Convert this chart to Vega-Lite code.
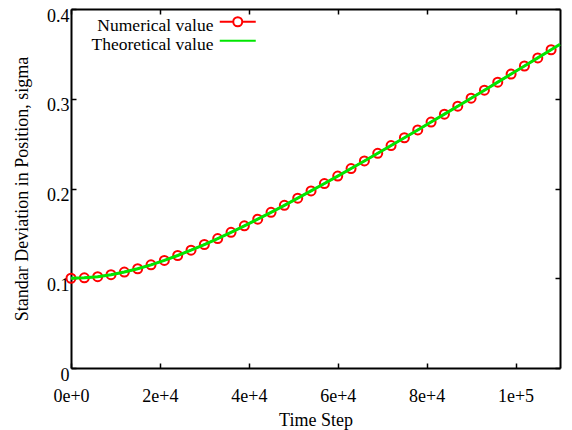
{
  "$schema": "https://vega.github.io/schema/vega-lite/v6.json",
  "width": 489,
  "height": 359,
  "autosize": {"type": "none"},
  "padding": {"left": 71, "top": 9, "right": 12, "bottom": 62},
  "background": "white",
  "config": {
    "view": {"stroke": null},
    "font": "Liberation Serif",
    "axis": {
      "labelFont": "Liberation Serif",
      "titleFont": "Liberation Serif",
      "labelFontSize": 18,
      "titleFontSize": 18,
      "titleFontWeight": "normal",
      "labelColor": "black",
      "titleColor": "black",
      "domainColor": "black",
      "domainWidth": 2,
      "tickColor": "black",
      "tickWidth": 1.5,
      "tickSize": -5,
      "grid": false
    }
  },
  "data": {
    "values": [
      {"t": 0, "sigma": 0.1, "series": "Numerical value"},
      {"t": 3000, "sigma": 0.10045, "series": "Numerical value"},
      {"t": 6000, "sigma": 0.10177, "series": "Numerical value"},
      {"t": 9000, "sigma": 0.10394, "series": "Numerical value"},
      {"t": 12000, "sigma": 0.10691, "series": "Numerical value"},
      {"t": 15000, "sigma": 0.1106, "series": "Numerical value"},
      {"t": 18000, "sigma": 0.11496, "series": "Numerical value"},
      {"t": 21000, "sigma": 0.1199, "series": "Numerical value"},
      {"t": 24000, "sigma": 0.12536, "series": "Numerical value"},
      {"t": 27000, "sigma": 0.13128, "series": "Numerical value"},
      {"t": 30000, "sigma": 0.13759, "series": "Numerical value"},
      {"t": 33000, "sigma": 0.14424, "series": "Numerical value"},
      {"t": 36000, "sigma": 0.15119, "series": "Numerical value"},
      {"t": 39000, "sigma": 0.15841, "series": "Numerical value"},
      {"t": 42000, "sigma": 0.16584, "series": "Numerical value"},
      {"t": 45000, "sigma": 0.17347, "series": "Numerical value"},
      {"t": 48000, "sigma": 0.18128, "series": "Numerical value"},
      {"t": 51000, "sigma": 0.18923, "series": "Numerical value"},
      {"t": 54000, "sigma": 0.19731, "series": "Numerical value"},
      {"t": 57000, "sigma": 0.20552, "series": "Numerical value"},
      {"t": 60000, "sigma": 0.21382, "series": "Numerical value"},
      {"t": 63000, "sigma": 0.22222, "series": "Numerical value"},
      {"t": 66000, "sigma": 0.2307, "series": "Numerical value"},
      {"t": 69000, "sigma": 0.23925, "series": "Numerical value"},
      {"t": 72000, "sigma": 0.24786, "series": "Numerical value"},
      {"t": 75000, "sigma": 0.25654, "series": "Numerical value"},
      {"t": 78000, "sigma": 0.26527, "series": "Numerical value"},
      {"t": 81000, "sigma": 0.27404, "series": "Numerical value"},
      {"t": 84000, "sigma": 0.28286, "series": "Numerical value"},
      {"t": 87000, "sigma": 0.29172, "series": "Numerical value"},
      {"t": 90000, "sigma": 0.30062, "series": "Numerical value"},
      {"t": 93000, "sigma": 0.30954, "series": "Numerical value"},
      {"t": 96000, "sigma": 0.3185, "series": "Numerical value"},
      {"t": 99000, "sigma": 0.32749, "series": "Numerical value"},
      {"t": 102000, "sigma": 0.3365, "series": "Numerical value"},
      {"t": 105000, "sigma": 0.34553, "series": "Numerical value"},
      {"t": 108000, "sigma": 0.35459, "series": "Numerical value"},
      {"t": 0, "sigma": 0.1, "series": "Theoretical value"},
      {"t": 3000, "sigma": 0.10045, "series": "Theoretical value"},
      {"t": 6000, "sigma": 0.10177, "series": "Theoretical value"},
      {"t": 9000, "sigma": 0.10394, "series": "Theoretical value"},
      {"t": 12000, "sigma": 0.10691, "series": "Theoretical value"},
      {"t": 15000, "sigma": 0.1106, "series": "Theoretical value"},
      {"t": 18000, "sigma": 0.11496, "series": "Theoretical value"},
      {"t": 21000, "sigma": 0.1199, "series": "Theoretical value"},
      {"t": 24000, "sigma": 0.12536, "series": "Theoretical value"},
      {"t": 27000, "sigma": 0.13128, "series": "Theoretical value"},
      {"t": 30000, "sigma": 0.13759, "series": "Theoretical value"},
      {"t": 33000, "sigma": 0.14424, "series": "Theoretical value"},
      {"t": 36000, "sigma": 0.15119, "series": "Theoretical value"},
      {"t": 39000, "sigma": 0.15841, "series": "Theoretical value"},
      {"t": 42000, "sigma": 0.16584, "series": "Theoretical value"},
      {"t": 45000, "sigma": 0.17347, "series": "Theoretical value"},
      {"t": 48000, "sigma": 0.18128, "series": "Theoretical value"},
      {"t": 51000, "sigma": 0.18923, "series": "Theoretical value"},
      {"t": 54000, "sigma": 0.19731, "series": "Theoretical value"},
      {"t": 57000, "sigma": 0.20552, "series": "Theoretical value"},
      {"t": 60000, "sigma": 0.21382, "series": "Theoretical value"},
      {"t": 63000, "sigma": 0.22222, "series": "Theoretical value"},
      {"t": 66000, "sigma": 0.2307, "series": "Theoretical value"},
      {"t": 69000, "sigma": 0.23925, "series": "Theoretical value"},
      {"t": 72000, "sigma": 0.24786, "series": "Theoretical value"},
      {"t": 75000, "sigma": 0.25654, "series": "Theoretical value"},
      {"t": 78000, "sigma": 0.26527, "series": "Theoretical value"},
      {"t": 81000, "sigma": 0.27404, "series": "Theoretical value"},
      {"t": 84000, "sigma": 0.28286, "series": "Theoretical value"},
      {"t": 87000, "sigma": 0.29172, "series": "Theoretical value"},
      {"t": 90000, "sigma": 0.30062, "series": "Theoretical value"},
      {"t": 93000, "sigma": 0.30954, "series": "Theoretical value"},
      {"t": 96000, "sigma": 0.3185, "series": "Theoretical value"},
      {"t": 99000, "sigma": 0.32749, "series": "Theoretical value"},
      {"t": 102000, "sigma": 0.3365, "series": "Theoretical value"},
      {"t": 105000, "sigma": 0.34553, "series": "Theoretical value"},
      {"t": 108000, "sigma": 0.35459, "series": "Theoretical value"},
      {"t": 110000, "sigma": 0.36064, "series": "Theoretical value"}
    ]
  },
  "layer": [
    {
      "transform": [{"filter": "datum.series === 'Numerical value'"}],
      "mark": {"type": "line", "strokeWidth": 2},
      "encoding": {
        "x": {
          "field": "t", "type": "quantitative",
          "scale": {"domain": [0, 110000], "nice": false, "zero": false},
          "axis": {
            "orient": "bottom",
            "values": [0, 20000, 40000, 60000, 80000, 100000],
            "labelExpr": "datum.value === 0 ? '0e+0' : (datum.value === 100000 ? '1e+5' : (datum.value / 10000) + 'e+4')",
            "labelPadding": 24,
            "labelFlush": false,
            "labelOverlap": false,
            "title": "Time Step",
            "titlePadding": 6
          }
        },
        "y": {
          "field": "sigma", "type": "quantitative",
          "scale": {"domain": [0, 0.4], "nice": false},
          "axis": {
            "orient": "left",
            "values": [0, 0.1, 0.2, 0.3, 0.4],
            "format": "~g",
            "labelPadding": 7,
            "labelBaseline": "alphabetic",
            "labelOffset": 12,
            "labelFlush": false,
            "labelOverlap": false,
            "title": "Standar Deviation in Position, sigma",
            "titleBaseline": "alphabetic",
            "titleX": -44
          }
        },
        "color": {
          "field": "series", "type": "nominal",
          "scale": {"domain": ["Numerical value", "Theoretical value"], "range": ["#ff0000", "#00e600"]},
          "legend": {
            "title": null,
            "orient": "none",
            "legendX": 158,
            "legendY": 8,
            "padding": 0,
            "labelAlign": "right",
            "labelOffset": -33,
            "labelFont": "Liberation Serif",
            "labelFontSize": 17.5,
            "labelColor": "black",
            "labelLimit": 300,
            "symbolSize": 144,
            "symbolStrokeWidth": 2,
            "rowPadding": 0,
            "encode": {
              "symbols": {
                "update": {
                  "shape": {"signal": "datum.value === 'Numerical value' ? 'M-3,-0.667L-0.75,-0.667M0.75,-0.667L3,-0.667M-0.75,-0.667A0.75,0.75,0,1,0,0.75,-0.667A0.75,0.75,0,1,0,-0.75,-0.667' : 'M-3,-0.667L3,-0.667'"},
                  "fill": {"value": "transparent"},
                  "strokeWidth": {"value": 2}
                }
              }
            }
          }
        }
      }
    },
    {
      "transform": [{"filter": "datum.series === 'Numerical value'"}],
      "mark": {"type": "point", "shape": "circle", "filled": false, "size": 81, "strokeWidth": 2, "color": "#ff0000", "opacity": 1},
      "encoding": {
        "x": {"field": "t", "type": "quantitative", "axis": null},
        "y": {"field": "sigma", "type": "quantitative", "axis": null}
      }
    },
    {
      "transform": [{"filter": "datum.series === 'Theoretical value'"}],
      "mark": {"type": "line", "strokeWidth": 3},
      "encoding": {
        "x": {
          "field": "t", "type": "quantitative",
          "axis": {"orient": "top", "values": [0, 20000, 40000, 60000, 80000, 100000], "labels": false, "title": null}
        },
        "y": {
          "field": "sigma", "type": "quantitative",
          "axis": {"orient": "right", "values": [0, 0.1, 0.2, 0.3, 0.4], "labels": false, "title": null}
        },
        "color": {"field": "series", "type": "nominal"}
      }
    }
  ],
  "resolve": {"axis": {"x": "independent", "y": "independent"}}
}
